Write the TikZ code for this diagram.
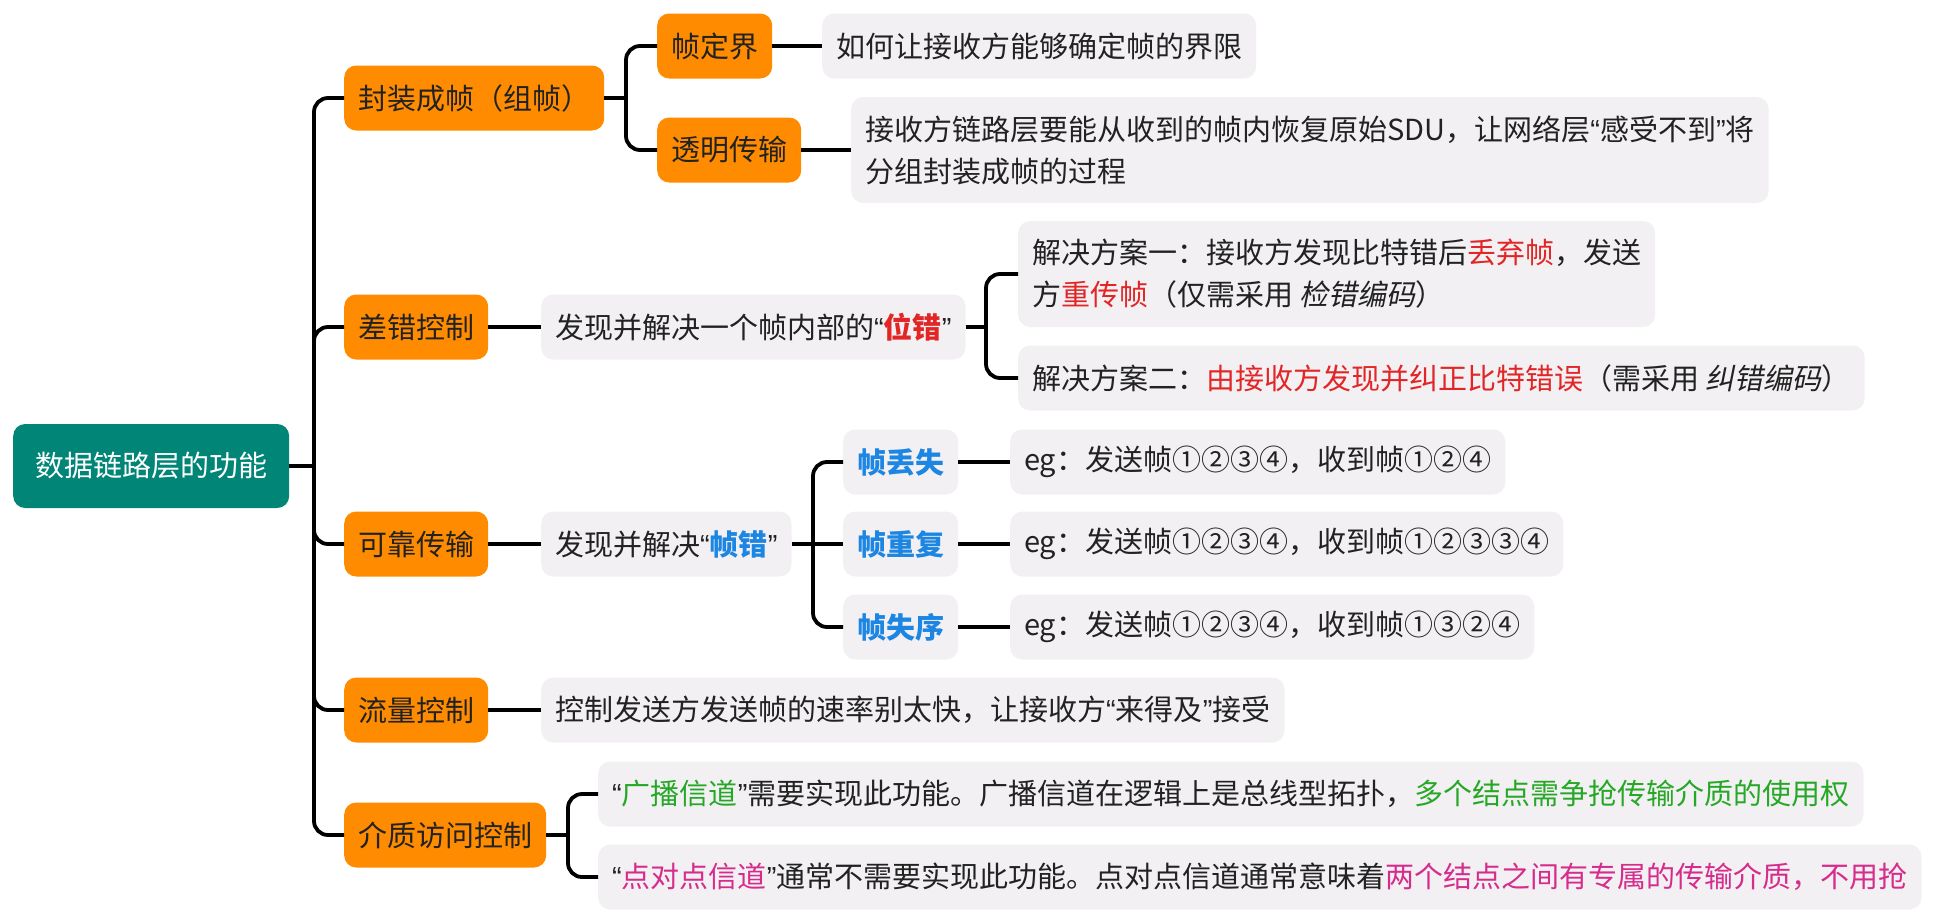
\documentclass[tikz,border=0pt]{standalone}
\usepackage{fontspec}
\setmainfont{Noto Sans CJK SC}
\newfontfamily\slantcjk{Noto Sans CJK SC}[FakeSlant=0.2]
\newfontfamily\qfont{Liberation Sans}
\newcommand\qopen{{\qfont “}}
\newcommand\qclose{{\qfont ”}}
\definecolor{teal0}{RGB}{0,133,119}
\definecolor{orange0}{RGB}{255,140,0}
\definecolor{gray0}{RGB}{242,240,243}
\definecolor{ink}{RGB}{34,34,34}
\definecolor{red0}{RGB}{226,38,38}
\definecolor{blue0}{RGB}{28,134,226}
\definecolor{green0}{RGB}{38,168,38}
\definecolor{pink0}{RGB}{214,44,140}
\tikzset{
  box/.style={rounded corners=12pt, inner xsep=14pt, inner ysep=0pt, minimum height=65pt,
    font=\fontsize{29}{42}\selectfont, text=ink, align=left, anchor=west},
  root/.style={box, fill=teal0, text=white, inner xsep=22pt, minimum height=84pt},
  topic/.style={box, fill=orange0},
  note/.style={box, fill=gray0},
  kind/.style={note, text=blue0, font=\fontsize{29}{42}\selectfont\bfseries},
  link/.style={line width=3.8pt, rounded corners=14pt},
}
\begin{document}
\begin{tikzpicture}[x=1pt, y=-1pt]
\useasboundingbox (0,0) rectangle (1943,918);
\node[root] (r) at (13,466) {数据链路层的功能};
% first level
\node[topic] (fz) at (344,98) {封装成帧（组帧）};
\node[topic] (cc) at (344,327) {差错控制};
\node[topic] (kk) at (344,544) {可靠传输};
\node[topic] (ll) at (344,710) {流量控制};
\node[topic] (jz) at (344,835) {介质访问控制};
% framing
\node[topic] (dj) at (657,46) {帧定界};
\node[topic] (tm) at (657,150) {透明传输};
\node[note] (djt) at (822,46) {如何让接收方能够确定帧的界限};
\node[note, minimum height=106pt] (tmt) at (851,150) {接收方链路层要能从收到的帧内恢复原始SDU，让网络层\qopen 感受不到\qclose 将\\分组封装成帧的过程};
% error control
\node[note] (cct) at (541,327) {发现并解决一个帧内部的\qopen\textcolor{red0}{\bfseries 位错}\qclose};
\node[note, minimum height=106pt] (fa1) at (1018,274) {解决方案一：接收方发现比特错后\textcolor{red0}{丢弃帧}，发送\\方\textcolor{red0}{重传帧}（仅需采用 {\slantcjk 检错编码}）};
\node[note] (fa2) at (1018,378) {解决方案二：\textcolor{red0}{由接收方发现并纠正比特错误}（需采用 {\slantcjk 纠错编码}）};
% reliable transfer
\node[note] (kkt) at (541,544) {发现并解决\qopen\textcolor{blue0}{\bfseries 帧错}\qclose};
\node[kind] (ds) at (843,462) {帧丢失};
\node[kind] (cf) at (843,544) {帧重复};
\node[kind] (sx) at (843,627) {帧失序};
\node[note] (dst) at (1010,462) {eg：发送帧①②③④，收到帧①②④};
\node[note] (cft) at (1010,544) {eg：发送帧①②③④，收到帧①②③③④};
\node[note] (sxt) at (1010,627) {eg：发送帧①②③④，收到帧①③②④};
% flow and medium access
\node[note] (llt) at (541,710) {控制发送方发送帧的速率别太快，让接收方\qopen 来得及\qclose 接受};
\node[note] (gb) at (598,794) {\qopen\textcolor{green0}{广播信道}\qclose 需要实现此功能。广播信道在逻辑上是总线型拓扑，\textcolor{green0}{多个结点需争抢传输介质的使用权}};
\node[note] (dd) at (598,877) {\qopen\textcolor{pink0}{点对点信道}\qclose 通常不需要实现此功能。点对点信道通常意味着\textcolor{pink0}{两个结点之间有专属的传输介质，不用抢}};
% connectors
\coordinate (j0) at (314,466);
\coordinate (j1) at (626,98);
\coordinate (j2) at (986,327);
\coordinate (j3) at (813,544);
\coordinate (j4) at (568,835);
\draw[link] (r.east) -- (j0);
\foreach \n in {fz,cc,kk,ll,jz} \draw[link] (j0) |- (\n.west);
\draw[link] (fz.east) -- (j1);
\foreach \n in {dj,tm} \draw[link] (j1) |- (\n.west);
\draw[link] (dj) -- (djt);
\draw[link] (tm) -- (tmt);
\draw[link] (cc) -- (cct);
\draw[link] (cct.east) -- (j2);
\foreach \n in {fa1,fa2} \draw[link] (j2) |- (\n.west);
\draw[link] (kk) -- (kkt);
\draw[link] (kkt.east) -- (cf.west);
\foreach \n in {ds,sx} \draw[link] (j3) |- (\n.west);
\draw[link] (ds) -- (dst);
\draw[link] (cf) -- (cft);
\draw[link] (sx) -- (sxt);
\draw[link] (ll) -- (llt);
\draw[link] (jz.east) -- (j4);
\foreach \n in {gb,dd} \draw[link] (j4) |- (\n.west);
\end{tikzpicture}
\end{document}
